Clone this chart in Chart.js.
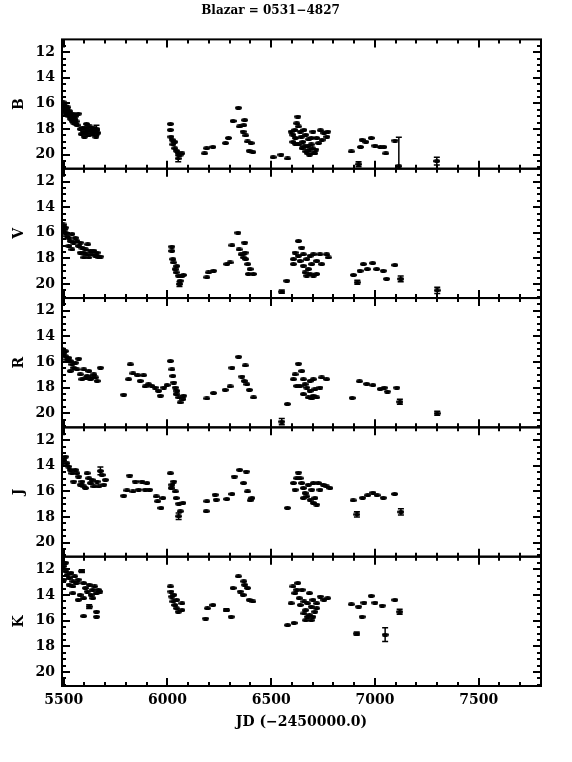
<!DOCTYPE html>
<html>
<head>
<meta charset="utf-8">
<script src="https://cdn.jsdelivr.net/npm/chart.js@4.4.1/dist/chart.umd.min.js"></script>
<style>
  html, body { margin: 0; padding: 0; background: #fff; }
  canvas { display: block; }
</style>
</head>
<body>
<canvas id="lightCurve" width="572" height="762"></canvas>
<script>
// Blazar 0531-4827 light curves, JD - 2450000 vs magnitude
const bandNames = ['B', 'V', 'R', 'J', 'K'];
const jdTicks = [5500, 6000, 6500, 7000, 7500];
const magTicks = [12, 14, 16, 18, 20];

const bPoints = [
  [5497,15.9],[5500,16.1],[5502,16.4],[5505,16.6],[5507,16.2],[5510,16.8],[5512,16.4],[5515,16.5],
  [5518,16.9],[5520,16.3],[5522,16.7],[5525,17.0],[5528,16.6],[5530,16.8],[5533,17.2],[5535,16.9],
  [5540,17.1],[5543,17.4],[5545,16.8],[5548,17.5],[5550,17.2],[5553,17.3],[5556,17.0],[5558,17.6],
  [5560,17.4],[5565,17.7],[5570,16.8],[5580,18.0],[5585,18.4],[5590,17.9],[5595,18.2],[5600,18.6],
  [5603,17.9],[5607,18.3],[5610,17.6],[5615,18.1],[5620,18.5],[5625,17.8],[5630,18.2],[5635,18.0],
  [5640,18.4],[5645,17.9],[5650,18.2],[5655,18.6],[5660,18.0],[5665,18.3],
  [6014,17.6],[6014,18.07],[6017,18.6],[6023,18.84],[6026,19.2],[6035,19.0],[6035,19.5],[6044,19.7],
  [6052,19.9],[6061,20.0],[6070,19.9],
  [6179,19.9],[6189,19.5],[6219,19.4],[6280,19.1],[6294,18.7],[6316,17.37],[6342,16.34],[6347,17.8],
  [6368,17.7],[6372,17.3],[6365,18.2],[6377,18.5],[6386,18.97],[6403,19.1],[6394,19.7],[6412,19.8],
  [6509,20.2],[6547,20.0],[6579,20.3],
  [6628,17.03],[6623,17.55],[6614,18.07],[6605,18.45],[6596,18.2],[6605,19.0],[6617,18.7],[6631,17.8],
  [6640,18.2],[6645,18.6],[6652,19.0],[6658,19.35],[6666,19.75],[6675,19.9],[6684,19.6],[6693,19.2],
  [6701,18.2],[6705,19.9],[6715,19.6],[6719,18.7],[6728,19.1],[6737,18.1],[6745,18.84],[6754,18.3],
  [6772,18.2],[6768,18.6],[6666,18.45],[6680,18.8],[6693,18.7],[6658,18.07],[6631,19.2],[6649,19.5],
  [6675,19.35],[6698,19.5],[6710,19.9],[6684,20.0],[6617,19.15],
  [6886,19.75],[6930,19.4],[6938,18.84],[6956,19.0],[6982,18.7],[7000,19.3],[7026,19.4],[7043,19.4],
  [7052,19.9],[7096,18.9]
];
const bErrors = [[5658,18.1,0.4],[6052,20.3,0.25],[6921,20.75,0.2],[7115,20.9,2.25],[7298,20.5,0.3]];

const vPoints = [
  [5497,15.35],[5500,15.5],[5503,15.75],[5508,15.6],[5508,16.0],[5516,16.26],[5524,16.4],[5524,17.03],
  [5532,16.65],[5540,16.1],[5540,17.3],[5548,16.77],[5556,16.4],[5564,16.65],[5572,17.03],[5580,16.77],
  [5580,17.55],[5588,17.16],[5597,17.55],[5597,17.93],[5605,17.3],[5613,17.68],[5616,16.9],[5621,17.93],
  [5629,17.4],[5637,17.68],[5645,17.4],[5653,17.8],[5661,17.55],[5669,17.93],[5677,17.86],
  [6021,17.08],[6021,17.42],[6026,18.06],[6029,18.32],[6037,18.84],[6045,18.6],[6042,19.1],[6053,19.35],
  [6061,19.75],[6069,19.4],[6077,19.3],
  [6190,19.48],[6198,19.1],[6222,18.97],[6286,18.45],[6302,18.32],[6311,16.98],[6340,16.0],[6372,16.77],
  [6345,17.3],[6355,17.68],[6366,17.93],[6374,17.55],[6377,18.06],[6387,18.45],[6398,18.84],[6390,19.22],
  [6414,19.22],[6575,19.75],
  [6631,16.65],[6647,17.16],[6615,17.55],[6607,18.06],[6607,18.45],[6631,17.8],[6655,17.68],[6671,18.06],
  [6687,17.8],[6703,17.68],[6719,18.2],[6735,17.68],[6767,17.68],[6775,17.93],[6743,18.45],[6695,18.45],
  [6679,18.84],[6663,19.1],[6703,19.35],[6719,19.22],[6687,19.22],[6655,18.58],[6639,18.2],[6671,19.35],
  [6896,19.3],[6928,18.97],[6944,18.45],[6963,18.84],[6989,18.37],[7008,18.84],[7040,18.97],[7056,19.6],
  [7096,18.52]
];
const vErrors = [[6058,20.0,0.2],[6551,20.6,0.12],[6915,19.87,0.15],[7124,19.6,0.22],[7300,20.5,0.25]];

const rPoints = [
  [5492,15.0],[5500,15.28],[5508,15.54],[5508,15.15],[5516,15.8],[5524,15.67],[5532,15.92],[5532,16.7],
  [5540,16.18],[5548,16.44],[5556,16.05],[5564,16.57],[5572,15.74],[5580,16.96],[5588,17.34],[5597,16.57],
  [5605,17.28],[5613,17.08],[5621,16.7],[5629,17.34],[5637,17.2],[5645,16.96],[5653,17.2],[5661,17.47],
  [5677,16.44],
  [5789,18.55],[5813,17.34],[5821,16.18],[5834,16.88],[5856,17.03],[5869,17.47],[5885,17.03],[5893,17.9],
  [5909,17.73],[5925,17.86],[5941,17.99],[5957,18.25],[5966,18.63],[5982,17.99],[5998,17.8],
  [6014,15.92],[6022,16.57],[6026,17.08],[6030,17.6],[6038,17.99],[6042,18.5],[6046,18.25],[6054,18.76],
  [6062,19.15],[6075,18.89],[6078,18.63],
  [6190,18.84],[6222,18.42],[6278,18.17],[6302,17.9],[6311,16.44],[6343,15.59],[6375,16.26],[6359,17.13],
  [6370,17.47],[6383,17.73],[6395,18.17],[6415,18.76],[6578,19.28],
  [6631,16.13],[6615,16.96],[6607,17.34],[6623,17.86],[6647,16.7],[6655,17.34],[6663,17.73],[6671,17.99],
  [6687,18.25],[6703,18.63],[6719,18.76],[6711,18.12],[6735,17.99],[6743,17.2],[6767,17.34],[6687,17.47],
  [6703,17.34],[6655,18.5],[6679,18.76],[6695,18.84],[6639,17.86],
  [6890,18.8],[6925,17.5],[6960,17.7],[6990,17.8],[7025,18.1],[7045,18.0],[7060,18.3],[7105,18.0]
];
const rErrors = [[6551,20.65,0.25],[7120,19.1,0.2],[7300,20.0,0.15]];

const jPoints = [
  [5492,13.8],[5500,13.55],[5508,13.29],[5516,13.8],[5524,14.06],[5532,14.32],[5540,14.58],[5548,15.23],
  [5556,14.32],[5564,14.58],[5572,14.84],[5580,15.48],[5588,15.23],[5597,15.61],[5605,15.74],[5613,14.58],
  [5621,14.97],[5629,15.35],[5637,15.1],[5645,15.61],[5661,15.23],[5669,15.61],[5685,14.71],[5693,15.48],
  [5701,15.1],
  [5789,16.34],[5805,15.92],[5818,14.76],[5834,16.0],[5845,15.23],[5861,15.87],[5877,15.23],[5893,15.87],
  [5901,15.35],[5914,15.87],[5946,16.39],[5953,16.77],[5969,17.29],[5978,16.52],
  [6014,14.58],[6022,15.48],[6018,15.74],[6030,15.23],[6038,16.0],[6042,16.52],[6054,16.96],[6062,17.55],
  [6075,16.9],
  [6187,17.55],[6190,16.77],[6230,16.26],[6235,16.65],[6286,16.6],[6311,16.2],[6322,14.84],[6348,14.32],
  [6380,14.45],[6367,15.35],[6386,16.0],[6407,16.52],[6399,16.7],[6578,17.29],
  [6631,14.53],[6623,14.97],[6607,15.35],[6615,15.87],[6647,15.35],[6655,15.74],[6663,16.13],[6671,16.39],
  [6687,16.65],[6703,16.9],[6719,17.03],[6711,16.52],[6735,15.87],[6751,15.48],[6767,15.61],[6783,15.74],
  [6679,15.48],[6695,15.87],[6639,14.97],[6655,16.52],[6727,15.35],[6703,15.35],
  [6895,16.7],[6940,16.5],[6965,16.3],[6990,16.1],[7010,16.3],[7040,16.5],[7095,16.2]
];
const jErrors = [[5677,14.4,0.3],[6054,17.94,0.25],[6913,17.8,0.2],[7125,17.6,0.25]];

const kPoints = [
  [5500,11.74],[5509,11.47],[5509,12.13],[5518,12.4],[5526,12.66],[5526,13.19],[5535,12.26],[5544,12.92],
  [5544,13.32],[5544,13.85],[5553,12.53],[5561,13.06],[5570,12.79],[5570,14.37],[5579,13.98],[5596,13.06],
  [5596,14.24],[5596,15.64],[5605,13.45],[5614,13.72],[5623,13.19],[5632,13.98],[5640,13.58],[5640,14.24],
  [5649,13.32],[5658,13.85],[5658,15.3],[5658,15.69],[5667,13.58],[5675,13.72],[5500,12.79],
  [6014,13.32],[6017,13.72],[6021,14.11],[6026,14.5],[6031,13.98],[6035,14.77],[6044,15.03],[6044,14.37],
  [6052,15.3],[6070,14.64],[6070,15.17],
  [6184,15.83],[6193,15.03],[6219,14.77],[6307,15.69],[6316,13.45],[6342,12.53],[6368,12.92],[6372,13.19],
  [6351,13.72],[6365,13.98],[6386,13.45],[6394,14.37],[6412,14.5],
  [6579,16.35],[6610,16.17],
  [6628,13.06],[6605,13.32],[6614,13.85],[6596,14.64],[6635,14.24],[6649,13.58],[6658,14.5],[6666,15.17],
  [6675,15.69],[6684,13.85],[6693,14.9],[6701,14.37],[6710,15.3],[6719,14.64],[6737,14.11],[6754,14.37],
  [6772,14.24],[6658,15.43],[6684,15.56],[6701,15.69],[6675,14.64],[6719,15.03],[6640,14.77],[6623,13.58],
  [6666,15.96],[6693,15.96],
  [6886,14.72],[6921,14.9],[6947,14.59],[6938,15.69],[6982,14.06],[7000,14.59],[7035,14.82],[7096,14.37]
];
const kErrors = [[5588,12.13,0.1],[5623,14.9,0.15],[6284,15.17,0.1],[6912,17.0,0.12],[7049,17.09,0.53],[7119,15.3,0.2]];

const bandPoints = { B: bPoints, V: vPoints, R: rPoints, J: jPoints, K: kPoints };
const bandErrors = { B: bErrors, V: vErrors, R: rErrors, J: jErrors, K: kErrors };

const fontFamily = '"DejaVu Serif", serif';

// small black ellipse used as the point marker
const mark = document.createElement('canvas');
mark.width = 7;
mark.height = 4;
const mc = mark.getContext('2d');
mc.fillStyle = '#000';
mc.beginPath();
mc.ellipse(3.5, 2, 3.5, 2, 0, 0, Math.PI * 2);
mc.fill();

// frame, inward ticks on every side, and error bars
const framePlugin = {
  id: 'frame',
  afterDatasetsDraw(chart) {
    const { ctx, chartArea: area, scales } = chart;
    const x = scales.x;
    ctx.save();
    ctx.strokeStyle = '#000';
    ctx.lineWidth = 2;
    bandNames.forEach(b => {
      const y = scales['y' + b];
      const top = y.top, bot = y.bottom;
      ctx.strokeRect(area.left, top, area.right - area.left, bot - top);
      ctx.beginPath();
      for (let m = 11.5; m <= 21; m += 0.5) {
        const py = Math.round(y.getPixelForValue(m));
        const len = magTicks.includes(m) ? 8 : 4;
        ctx.moveTo(area.left, py); ctx.lineTo(area.left + len, py);
        ctx.moveTo(area.right, py); ctx.lineTo(area.right - len, py);
      }
      for (let d = 5500; d <= 7800; d += 100) {
        const px = Math.round(x.getPixelForValue(d));
        const len = d % 500 === 0 ? 8 : 4;
        ctx.moveTo(px, top); ctx.lineTo(px, top + len);
        ctx.moveTo(px, bot); ctx.lineTo(px, bot - len);
      }
      ctx.stroke();

      // error bars, clipped to their own panel
      ctx.save();
      ctx.beginPath();
      ctx.rect(area.left, top, area.right - area.left, bot - top);
      ctx.clip();
      ctx.lineWidth = 1.5;
      ctx.beginPath();
      bandErrors[b].forEach(([jd, mag, err]) => {
        const px = x.getPixelForValue(jd);
        const p1 = y.getPixelForValue(mag - err);
        const p2 = y.getPixelForValue(mag + err);
        ctx.moveTo(px, p1); ctx.lineTo(px, p2);
        ctx.moveTo(px - 3, p1); ctx.lineTo(px + 3, p1);
        ctx.moveTo(px - 3, p2); ctx.lineTo(px + 3, p2);
      });
      ctx.stroke();
      ctx.restore();
    });
    ctx.restore();
  }
};

const scales = {
  x: {
    type: 'linear',
    position: 'bottom',
    min: 5492,
    max: 7800,
    grid: { display: false, drawTicks: false },
    border: { display: false },
    afterBuildTicks: s => { s.ticks = jdTicks.map(v => ({ value: v })); },
    afterFit: s => { s.height = 76; },
    ticks: {
      autoSkip: false,
      padding: 6,
      color: '#000',
      font: { family: fontFamily, size: 14, weight: 'bold' },
      maxRotation: 0,
      callback: v => String(v)
    },
    title: {
      display: true,
      text: 'JD (\u22122450000.0)',
      color: '#000',
      font: { family: fontFamily, size: 14, weight: 'bold' },
      padding: { top: 0, bottom: 31 }
    }
  }
};

// stacked left axes are laid out last-defined on top, so add them bottom-up
bandNames.slice().reverse().forEach(b => {
  scales['y' + b] = {
    type: 'linear',
    position: 'left',
    stack: 'bands',
    stackWeight: 1,
    offset: false,
    reverse: true,
    min: 11.0,
    max: 21.1,
    grid: { display: false, drawTicks: false },
    border: { display: false },
    afterBuildTicks: s => { s.ticks = magTicks.map(v => ({ value: v })); },
    afterFit: s => { s.width = 62; },
    ticks: {
      autoSkip: false,
      padding: 7,
      color: '#000',
      font: { family: fontFamily, size: 14, weight: 'bold' },
      callback: v => String(v)
    },
    title: {
      display: true,
      text: b,
      color: '#000',
      font: { family: fontFamily, size: 14, weight: 'bold' },
      padding: { top: 11, bottom: 0 }
    }
  };
});

const datasets = bandNames.map(b => ({
  label: b,
  yAxisID: 'y' + b,
  data: bandPoints[b].concat(bandErrors[b].map(e => [e[0], e[1]]))
    .map(p => ({ x: p[0], y: p[1] })),
  pointStyle: mark,
  pointRadius: 3,
  showLine: false
}));

new Chart(document.getElementById('lightCurve'), {
  type: 'scatter',
  data: { datasets },
  options: {
    responsive: false,
    animation: false,
    devicePixelRatio: 1,
    layout: { padding: { left: 0, right: 31, top: 0, bottom: 0 } },
    scales,
    plugins: {
      legend: { display: false },
      tooltip: { enabled: false },
      title: {
        display: true,
        text: 'Blazar = 0531\u22124827',
        color: '#000',
        font: { family: fontFamily, size: 12, weight: 'bold' },
        padding: { top: 4, bottom: 21 }
      }
    }
  },
  plugins: [framePlugin]
});
</script>
</body>
</html>
